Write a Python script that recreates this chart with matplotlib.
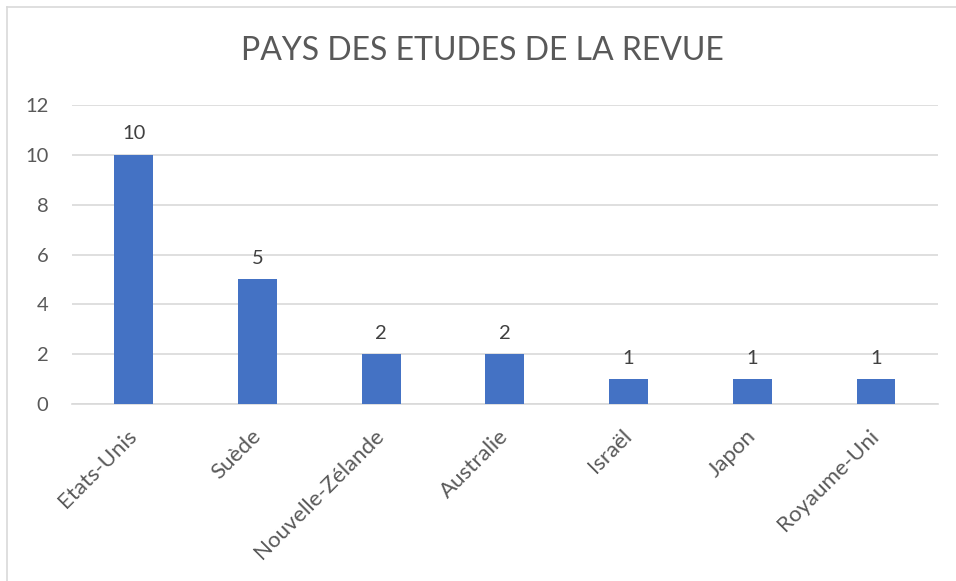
import matplotlib.pyplot as plt
from matplotlib.lines import Line2D

## données
pays = ['Etats-Unis', 'Suède', 'Nouvelle-Zélande', 'Australie', 'Israël', 'Japon', 'Royaume-Uni']
nb_etudes = [10, 5, 2, 2, 1, 1, 1]
y_ticks = [0, 2, 4, 6, 8, 10, 12]

plt.rcParams['font.family'] = ['Lato', 'DejaVu Sans']
gris = '#595959'

## plot
fig = plt.figure(figsize=(9.56, 5.81), dpi=100)
ax = fig.add_axes([0.0753, 0.3046, 0.9057, 0.5147])

x = range(len(pays))
bars = ax.bar(x, nb_etudes, width=0.315, color='#4472C4', zorder=3)
for b, v in zip(bars, nb_etudes):
    ax.annotate(str(v), (b.get_x() + b.get_width() / 2, v), xytext=(0, 9),
                textcoords='offset points', ha='center', va='bottom',
                fontsize=14.5, color='#404040')

ax.set_xlim(-0.5, len(pays) - 0.5)
ax.set_ylim(0, 12)
ax.set_yticks(y_ticks)
ax.set_yticklabels([str(t) for t in y_ticks], fontsize=14.5, color=gris)
ax.set_xticks(list(x))
ax.set_xticklabels(pays, rotation=45, ha='right', va='center', rotation_mode='anchor',
                   fontsize=16, color=gris)
ax.tick_params(axis='both', length=0)
ax.tick_params(axis='x', pad=21)
ax.tick_params(axis='y', pad=17)
ax.grid(axis='y', color='#D9D9D9', linewidth=1.2, zorder=0)
for s in ['top', 'right', 'left']:
    ax.spines[s].set_visible(False)
ax.spines['bottom'].set_color('#D9D9D9')
ax.spines['bottom'].set_linewidth(1.2)

fig.text(0.505, 0.913, 'PAYS DES ETUDES DE LA REVUE', ha='center', va='center',
         fontsize=23, color=gris)

# cadre du graphique
fig.add_artist(Line2D([7 / 956, 7 / 956], [0, 1 - 7 / 581], color='#D9D9D9', linewidth=1.2))
fig.add_artist(Line2D([7 / 956, 1], [1 - 7 / 581, 1 - 7 / 581], color='#D9D9D9', linewidth=1.2))

fig.savefig('out.png', dpi=100)
